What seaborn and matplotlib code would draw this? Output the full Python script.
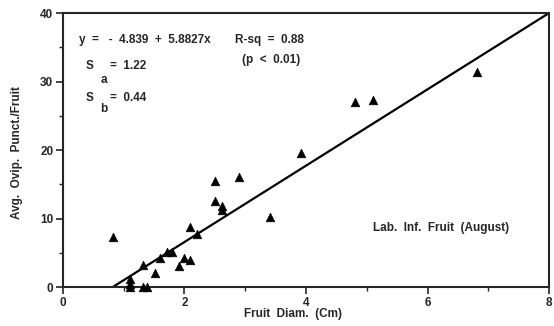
import matplotlib
matplotlib.use("Agg")
from matplotlib import pyplot as plt
from matplotlib.ticker import MultipleLocator
import numpy as np
import pandas as pd
import seaborn as sb

# fruit diameter (cm) vs avg oviposition punctures per fruit
diam = [0.82, 1.11, 1.11, 1.11, 1.31, 1.39, 1.31, 1.51, 1.60, 1.72, 1.80,
        1.91, 2.00, 2.09, 2.09, 2.21, 2.50, 2.50, 2.61, 2.61, 2.90, 3.40,
        3.91, 4.81, 5.10, 6.82]
punct = [7.35, 1.1, 0.5, 0.0, 0.0, 0.0, 3.2, 2.0, 4.3, 5.15, 5.15,
         3.07, 4.3, 3.9, 8.7, 7.8, 15.5, 12.6, 11.8, 11.2, 16.1, 10.2,
         19.6, 27.0, 27.3, 31.4]

# regression line as drawn in the figure
fit_x = [0.82, 8.0]
fit_y = [0.0, 40.0]

df = pd.DataFrame({"diam": diam, "punct": punct})
fit = pd.DataFrame({"x": fit_x, "y": fit_y})

sb.set_style("ticks")
plt.rcParams["font.family"] = ["Liberation Sans", "DejaVu Sans"]
plt.rcParams["font.weight"] = "bold"
plt.rcParams["axes.labelweight"] = "bold"

fig = plt.figure(figsize=(5.54, 3.26), dpi=100)
ax = fig.add_axes([0.1137, 0.1196, 0.8773, 0.8404])

sb.lineplot(data=fit, x="x", y="y", color="black", linewidth=1.6, ax=ax)
sb.scatterplot(data=df, x="diam", y="punct", marker="^", s=38,
               color="black", edgecolor="black", linewidth=0.5,
               clip_on=False, zorder=3, ax=ax)

ax.set_xlim(0, 8)
ax.set_ylim(0, 40)
ax.xaxis.set_major_locator(MultipleLocator(2))
ax.xaxis.set_minor_locator(MultipleLocator(1))
ax.yaxis.set_major_locator(MultipleLocator(10))
ax.yaxis.set_minor_locator(MultipleLocator(5))
ax.tick_params(which="major", length=5, width=1.2, labelsize=8.5, pad=2)
ax.tick_params(which="minor", length=3, width=1.0)
for s in ax.spines.values():
    s.set_linewidth(1.5)
    s.set_visible(True)

ax.set_xlabel("Fruit  Diam.  (Cm)", fontsize=8.5)
ax.xaxis.set_label_coords(0.473, -0.078)
ax.set_ylabel("Avg.  Ovip.  Punct./Fruit", fontsize=8.5)
ax.yaxis.set_label_coords(-0.082, 0.49)

fs = 8.5
ax.text(0.26, 36.0, "y  =   -  4.839  +  5.8827x", fontsize=fs, va="center")
ax.text(2.83, 36.0, "R-sq  =  0.88", fontsize=fs, va="center")
ax.text(2.95, 33.1, "(p  <  0.01)", fontsize=fs, va="center")
ax.text(0.38, 32.3, "S", fontsize=fs, va="center")
ax.text(0.62, 30.2, "a", fontsize=fs, va="center")
ax.text(0.77, 32.3, "=  1.22", fontsize=fs, va="center")
ax.text(0.38, 27.65, "S", fontsize=fs, va="center")
ax.text(0.62, 26.0, "b", fontsize=fs, va="center")
ax.text(0.77, 27.65, "=  0.44", fontsize=fs, va="center")
ax.text(5.10, 8.6, "Lab.  Inf.  Fruit  (August)", fontsize=fs, va="center")

fig.savefig("out.png", dpi=100)
